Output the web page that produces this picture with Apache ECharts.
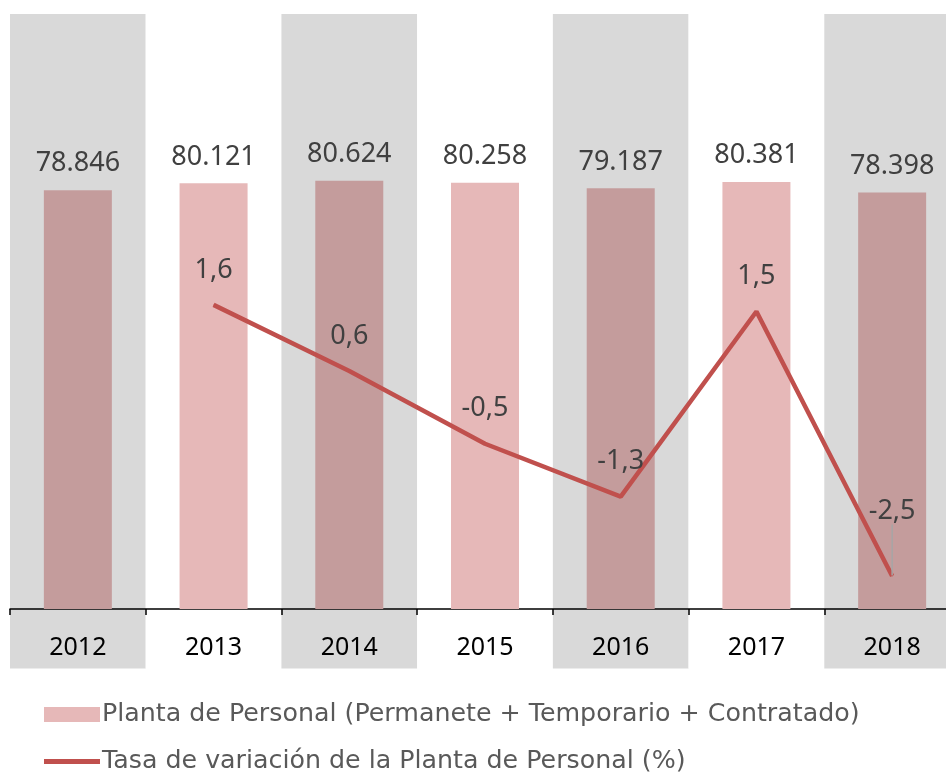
<!DOCTYPE html>
<html>
<head>
<meta charset="utf-8">
<script src="https://cdn.jsdelivr.net/npm/echarts@6/dist/echarts.min.js"></script>
<style>
  html, body { margin: 0; padding: 0; background: #fff; overflow: hidden; }
  #chart { width: 960px; height: 772px; }
</style>
</head>
<body>
<div id="chart"></div>
<script>
// datos
const years = ['2012', '2013', '2014', '2015', '2016', '2017', '2018'];
const planta = [78846, 80121, 80624, 80258, 79187, 80381, 78398];
const tasa = [null, 1.6, 0.6, -0.5, -1.3, 1.5, -2.5];

const barName = 'Planta de Personal (Permanete + Temporario + Contratado)';
const lineName = 'Tasa de variación de la Planta de Personal (%)';

const fontFam = '"Noto Sans", sans-serif';

const chart = echarts.init(document.getElementById('chart'));

const option = {
  animation: false,
  grid: { left: 10, right: 0, top: 14, height: 654.5 },
  legend: {
    orient: 'vertical',
    left: 44,
    top: 702,
    padding: 0,
    height: 80,
    itemWidth: 56,
    itemHeight: 15,
    itemGap: 22,
    textStyle: { fontFamily: '"DejaVu Sans", sans-serif', fontSize: 25.3, color: '#595959', padding: [0, 0, 0, -3] },
    data: [
      { name: barName, icon: 'rect', itemStyle: { color: '#e6b8b8' } },
      { name: lineName, icon: 'path://M0,0 M0,5 L56,5 L56,10 L0,10 Z M0,15', itemStyle: { color: '#c0504d' } }
    ]
  },
  xAxis: {
    type: 'category',
    data: years,
    boundaryGap: true,
    axisLine: { onZero: true, lineStyle: { color: '#000', width: 1.5 } },
    axisTick: { show: true, length: 6, lineStyle: { color: '#000', width: 1.5 } },
    axisLabel: { fontFamily: fontFam, fontSize: 25, color: '#000', margin: -33 },
    splitLine: { show: false },
    splitArea: { show: true, interval: 0, areaStyle: { color: ['#d9d9d9', '#ffffff'] } }
  },
  yAxis: [
    { type: 'value', min: -11200, max: 112000, show: false, splitLine: { show: false } },
    { type: 'value', min: -3.9, max: 6, show: false, splitLine: { show: false } }
  ],
  series: [
    {
      name: barName,
      type: 'bar',
      barWidth: 68,
      yAxisIndex: 0,
      data: planta.map((v, i) => ({
        value: v,
        itemStyle: { color: i % 2 === 0 ? '#c49c9c' : '#e6b8b8' }
      })),
      label: {
        show: true,
        position: 'top',
        distance: 13,
        fontFamily: fontFam,
        fontSize: 27,
        color: '#404040',
        formatter: p => (p.value / 1000).toFixed(3)
      }
    },
    {
      name: lineName,
      type: 'line',
      yAxisIndex: 1,
      symbol: 'circle',
      symbolSize: 1,
      z: 5,
      lineStyle: { color: '#c0504d', width: 4.5 },
      itemStyle: { color: '#c0504d' },
      data: tasa.map((v, i) => i === 6
        ? { value: v, labelLine: { show: true, lineStyle: { color: '#a6a6a6', width: 1.5 } } }
        : v),
      label: {
        show: true,
        position: 'top',
        distance: 21,
        fontFamily: fontFam,
        fontSize: 27,
        color: '#404040',
        formatter: p => (p.value == null ? '' : Number(p.value).toFixed(1).replace('.', ','))
      },
      labelLayout: function (params) {
        if (params.dataIndex === 6) {
          return { dy: -30 };
        }
      }
    }
  ]
};

chart.setOption(option);
</script>
</body>
</html>
